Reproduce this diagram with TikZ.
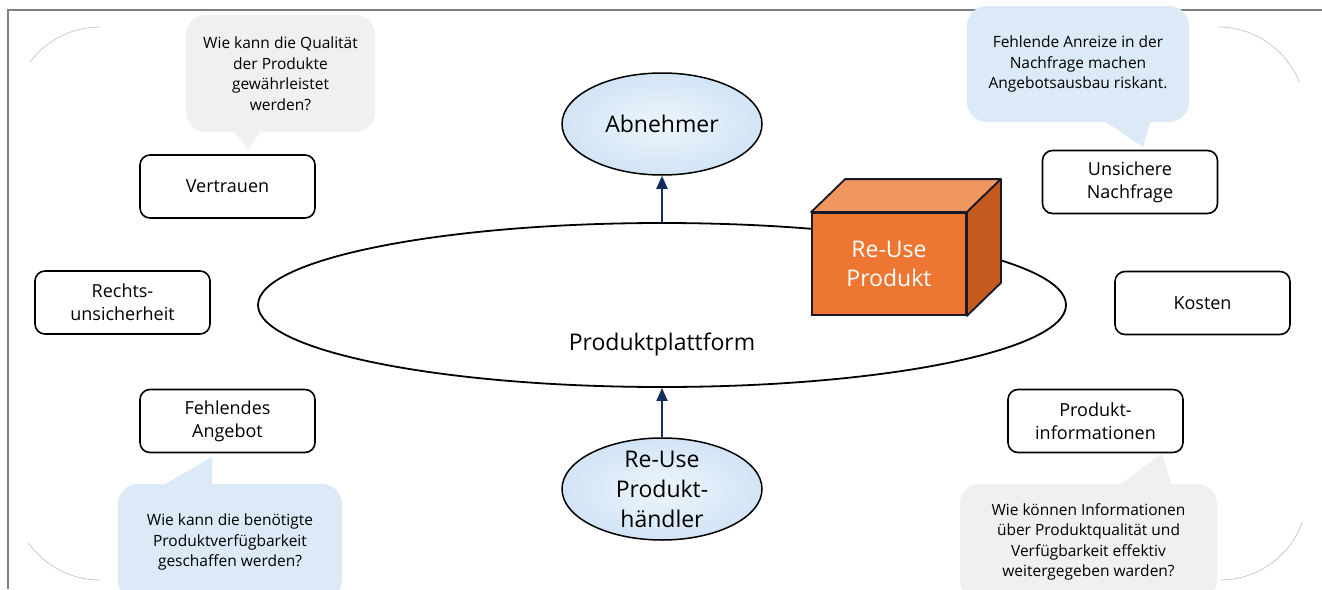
\documentclass[tikz,border=0pt]{standalone}
\usepackage{fontspec}
\setmainfont{Open Sans}
\usetikzlibrary{shapes.geometric,arrows.meta,calc}
\definecolor{ellblue}{RGB}{210,228,245}
\definecolor{ellblueIn}{RGB}{238,245,252}
\definecolor{bubblue}{RGB}{220,233,246}
\definecolor{bubgray}{RGB}{240,240,240}
\definecolor{navy}{RGB}{20,45,95}
\definecolor{cubefront}{RGB}{236,118,50}
\definecolor{cubetop}{RGB}{240,150,95}
\definecolor{cubeside}{RGB}{196,90,30}
\definecolor{cubeedge}{RGB}{25,25,40}
\definecolor{framegray}{RGB}{128,128,128}
\begin{document}
\begin{tikzpicture}[x=1pt,y=-1pt,
  rbox/.style={draw=black,line width=1.6pt,rounded corners=10pt,fill=white,
    minimum width=175pt,minimum height=63pt,align=center,inner sep=2pt,
    font=\fontsize{18}{23}\selectfont},
  bub/.style={rounded corners=20pt,align=center,inner sep=0pt,
    font=\fontsize{15.5}{20.5}\selectfont},
  actor/.style={ellipse,draw=black,line width=1.5pt,inner color=ellblueIn,outer color=ellblue,
    minimum width=200pt,minimum height=102pt,inner sep=0pt,align=center,
    font=\fontsize{23}{30}\selectfont},
  arr/.style={draw=navy,line width=2pt,-{Triangle[length=13pt,width=11pt]}},
  faint/.style={draw=gray!40,line width=0.8pt}
]
\useasboundingbox (0,0) rectangle (1322,589);
\clip (0,0) rectangle (1322,589);
\fill[white] (0,0) rectangle (1322,589);

% frame
\draw[framegray,line width=2pt] (8,589) -- (8,10) -- (1322,10);

% faint corner arcs (y axis points down, so angles are mirrored)
\draw[faint] (100,114.5) ++(-143:87.5) arc[start angle=-143,end angle=-90,radius=87.5];
\draw[faint] (1218,114.5) ++(-90:87.5) arc[start angle=-90,end angle=-22,radius=87.5];
\draw[faint] (100,492.5) ++(145:87.5) arc[start angle=145,end angle=90,radius=87.5];
\draw[faint] (1220,492.5) ++(90:87.5) arc[start angle=90,end angle=20,radius=87.5];

% speech bubbles
\node[bub,fill=bubgray,minimum width=189pt,minimum height=117pt] (q1) at (280.5,73.5)
  {Wie kann die Qualität\\der Produkte\\gewährleistet\\werden?};
\fill[bubgray] (230,126) -- (248,149) -- (265,126) -- cycle;

\node[bub,fill=bubblue,minimum width=222pt,minimum height=116pt] (q2) at (1078,64)
  {Fehlende Anreize in der\\Nachfrage machen\\Angebotsausbau riskant.};
\fill[bubblue] (1097,116) -- (1143,147) -- (1152,116) -- cycle;

\node[bub,fill=bubblue,minimum width=224pt,minimum height=116pt] (q3) at (230,542)
  {Wie kann die benötigte\\Produktverfügbarkeit\\geschaffen werden?};
\fill[bubblue] (155,490) -- (212,457) -- (212,490) -- cycle;

\node[bub,fill=bubgray,minimum width=257pt,minimum height=116pt] (q4) at (1088.5,542)
  {Wie können Informationen\\über Produktqualität und\\Verfügbarkeit effektiv\\weitergegeben warden?};
\fill[bubgray] (1113,490) -- (1162,453) -- (1173,490) -- cycle;

% platform ellipse
\node[ellipse,draw=black,line width=1.8pt,minimum width=808pt,minimum height=164pt,
  label={[yshift=-39pt,font=\fontsize{23}{28}\selectfont]center:Produktplattform}] (plat) at (662,305) {};

% actors
\node[actor] (abn) at (662,124) {Abnehmer};
\node[actor,label={[font=\fontsize{23}{30}\selectfont,align=center]center:Re-Use\\Produkt-\\händler}] (hdl) at (662,489) {};

\draw[arr] (plat.north) -- (abn.south);
\draw[arr] (hdl.north) -- (plat.south);

% cube
\node[draw=cubeedge,line width=1.8pt,fill=cubefront,minimum width=154pt,minimum height=102pt,
  inner sep=0pt,align=center,text=white,font=\fontsize{23}{29}\selectfont] (cube) at (889,264)
  {Re-Use\\Produkt};
\filldraw[fill=cubetop,draw=cubeedge,line width=1.8pt,line join=round]
  (cube.north west) -- ++(34,-33) -- ($(cube.north east)+(34,-33)$) -- (cube.north east) -- cycle;
\filldraw[fill=cubeside,draw=cubeedge,line width=1.8pt,line join=round]
  (cube.north east) -- ++(34,-33) -- ($(cube.south east)+(34,-33)$) -- (cube.south east) -- cycle;

% issue boxes
\node[rbox] (vertrauen) at (227.5,186.5) {Vertrauen};
\node[rbox] (recht) at (122.5,302.5) {Rechts-\\unsicherheit};
\node[rbox] (angebot) at (227.5,421) {Fehlendes\\Angebot};
\node[rbox] (nachfrage) at (1130,182) {Unsichere\\Nachfrage};
\node[rbox] (kosten) at (1202.5,303) {Kosten};
\node[rbox] (info) at (1095.5,421) {Produkt-\\informationen};
\end{tikzpicture}
\end{document}
